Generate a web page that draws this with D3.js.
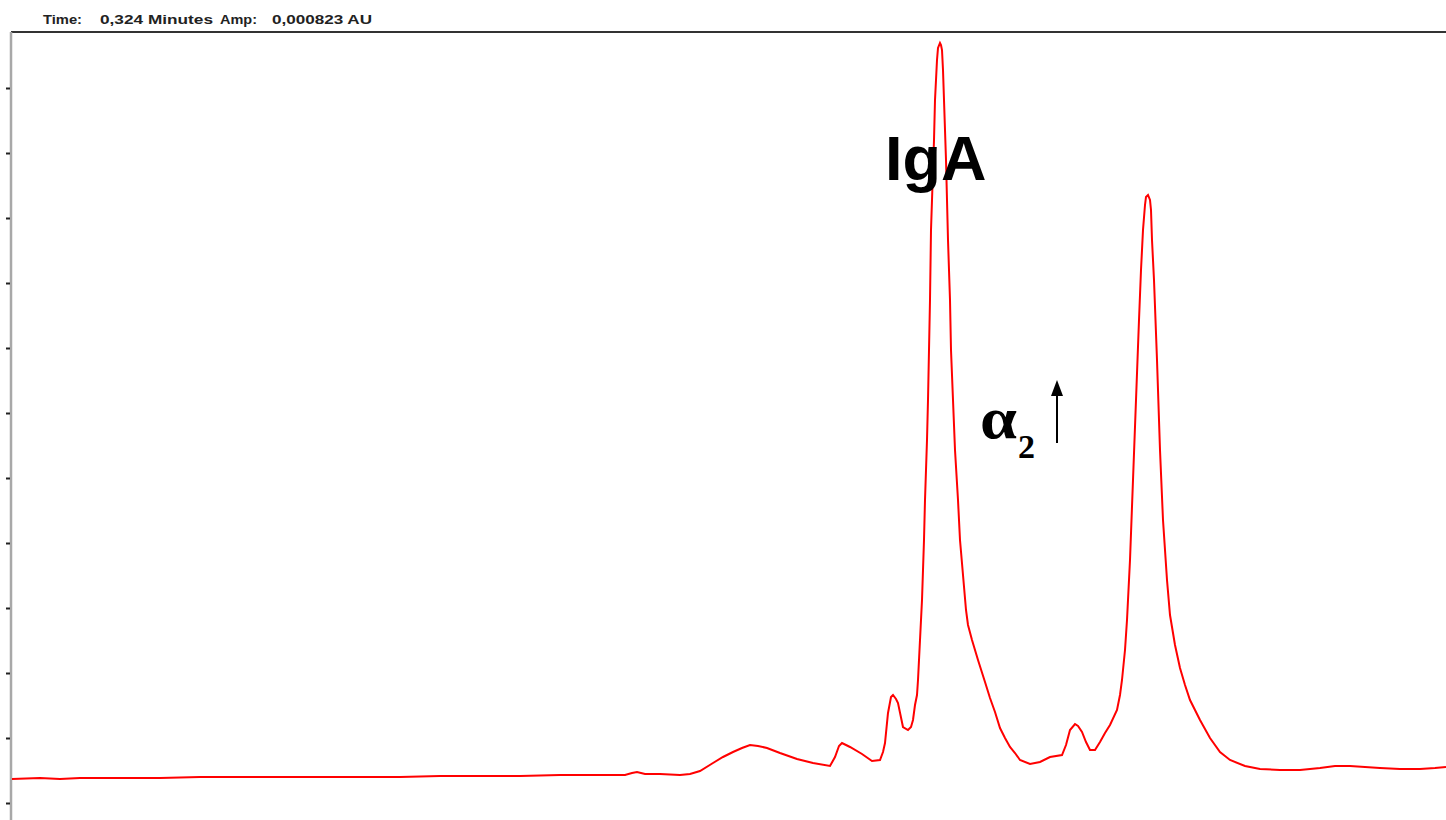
<!DOCTYPE html>
<html>
<head>
<meta charset="utf-8">
<script src="https://cdn.jsdelivr.net/npm/d3@7"></script>
<style>
  body { margin: 0; background: #fff; }
  svg { display: block; }
</style>
</head>
<body>
<svg width="1446" height="820"></svg>
<script>
// trace (time in scan units, amplitude in counts)
var time = [0,28,48,68,108,148,188,228,268,308,348,388,428,468,508,548,588,613,620,625,633,648,668,678,688,701,711,721,730,738,746,755,768,785,801,818,823,827,830,834,838,850,860,868,871,873,876,879,881,884,886,891,896,899,901,903,905,906,908,910,912,913,915,916,917,918,919,920,922,923,925,926,928,929,930,931,932,934,935,936,938,939,941,943,946,948,951,954,956,960,966,973,978,983,988,993,998,1003,1008,1018,1028,1038,1050,1054,1058,1063,1066,1070,1074,1078,1083,1088,1093,1098,1105,1108,1110,1113,1115,1118,1121,1124,1127,1129,1131,1133,1134,1136,1138,1139,1140,1142,1145,1148,1151,1155,1158,1163,1168,1173,1178,1188,1198,1208,1218,1233,1248,1268,1288,1308,1323,1338,1353,1368,1388,1408,1423,1434];
var amp = [24,25,24,25,25,25,26,26,26,26,26,26,27,27,27,28,28,28,30,31,29,29,28,29,32,40,46,51,55,58,57,55,50,44,40,37,46,57,60,58,56,49,42,43,51,60,90,106,108,104,100,76,73,76,83,98,108,123,163,203,263,303,363,403,453,503,573,603,663,703,743,755,760,758,753,733,703,643,603,563,503,453,403,353,303,263,228,193,178,163,143,121,105,91,75,65,56,50,43,39,41,46,48,58,73,79,77,71,61,53,53,61,70,78,93,108,123,153,183,243,323,403,483,533,573,598,606,608,603,593,563,523,443,353,283,223,188,158,135,118,103,83,65,51,43,37,34,33,33,35,37,37,36,35,34,34,35,36];

var yTicks = [0,65,130,195,260,325,390,455,520,585,650,715];
var headerParts = ['Time:', '0,324 Minutes', 'Amp:', '0,000823 AU'];
var headerX = [43, 100, 220, 272];
var headerW = [39, 113, 37, 100];

var svg = d3.select('svg');

var x = d3.scaleLinear().domain([0, 1434]).range([12, 1446]);
var y = d3.scaleLinear().domain([0, 771]).range([803, 32]);

// header readout
svg.selectAll('.hdr')
    .data(headerParts)
    .enter().append('text')
    .attr('class', 'hdr')
    .attr('x', function(d, i){ return headerX[i]; })
    .attr('y', 24)
    .attr('textLength', function(d, i){ return headerW[i]; })
    .attr('lengthAdjust', 'spacingAndGlyphs')
    .style('font-family', 'Liberation Sans, Arial, sans-serif')
    .style('font-size', '13px')
    .style('font-weight', 'bold')
    .style('fill', '#222')
    .text(function(d){ return d; });

// top frame line
svg.append('line')
    .attr('x1', 11)
    .attr('x2', 1446)
    .attr('y1', 32)
    .attr('y2', 32)
    .style('stroke', '#333')
    .style('stroke-width', 2);

// left axis
var yAxis = d3.axisLeft(y).tickValues(yTicks).tickSize(5).tickFormat('');
var ga = svg.append('g')
    .attr('transform', 'translate(11,0)')
    .call(yAxis);
ga.select('.domain')
    .attr('d', 'M0,32V820')
    .style('stroke', '#a8a8a8')
    .style('stroke-width', 2.5);
ga.selectAll('.tick line')
    .style('stroke', '#222')
    .style('stroke-width', 2)
    .attr('x1', -1);

// trace
var pts = time.map(function(t, i){ return [t, amp[i]]; });
var line = d3.line()
    .x(function(d){ return x(d[0]); })
    .y(function(d){ return y(d[1]); });

svg.append('path')
    .datum(pts)
    .attr('d', line)
    .style('fill', 'none')
    .style('stroke', '#ff0000')
    .style('stroke-width', 2)
    .style('stroke-linejoin', 'miter');

// labels
svg.append('text')
    .attr('x', x(873))
    .attr('y', y(623))
    .style('font-family', 'Liberation Sans, Arial, sans-serif')
    .style('font-weight', 'bold')
    .style('font-size', '63px')
    .style('fill', '#000')
    .text('IgA');

svg.append('text')
    .attr('x', x(968))
    .attr('y', y(365))
    .attr('textLength', 37)
    .attr('lengthAdjust', 'spacingAndGlyphs')
    .style('font-family', 'Liberation Serif, Times New Roman, serif')
    .style('font-weight', 'bold')
    .style('font-size', '60px')
    .style('fill', '#000')
    .text('α');

svg.append('text')
    .attr('x', x(1006))
    .attr('y', y(345))
    .style('font-family', 'Liberation Serif, Times New Roman, serif')
    .style('font-weight', 'bold')
    .style('font-size', '34px')
    .style('fill', '#000')
    .text('2');

// arrow
svg.append('line')
    .attr('x1', x(1045))
    .attr('x2', x(1045))
    .attr('y1', y(360))
    .attr('y2', y(410))
    .style('stroke', '#000')
    .style('stroke-width', 2);

svg.append('path')
    .attr('d', 'M' + (x(1045) - 6) + ',' + y(407) + 'L' + x(1045) + ',' + y(423) + 'L' + (x(1045) + 6) + ',' + y(407) + 'Z')
    .style('fill', '#000');
</script>
</body>
</html>
